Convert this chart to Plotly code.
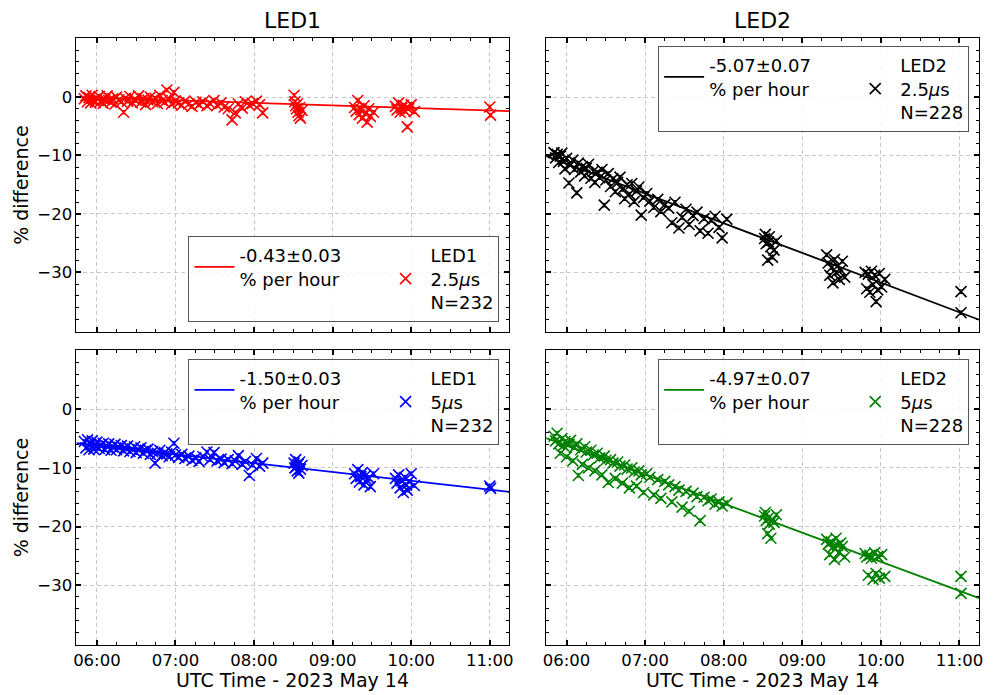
import plotly.graph_objects as go

# ---------------- data (decimal UTC hours, % difference) ----------------
led1_times = [
    5.84, 5.86, 5.88, 5.90, 5.92, 5.94, 5.96, 5.98, 6.00, 6.03, 6.05, 6.08, 6.10, 6.13, 6.15,
    6.18, 6.20, 6.23, 6.25, 6.28, 6.31, 6.34, 6.36, 6.39, 6.42, 6.45, 6.48, 6.50, 6.53, 6.56,
    6.59, 6.62, 6.65, 6.68, 6.71, 6.74, 6.77, 6.80, 6.83, 6.86, 6.89, 6.92, 6.95, 6.98, 7.00,
    7.04, 7.08, 7.12, 7.17, 7.21, 7.26, 7.30, 7.35, 7.40, 7.44, 7.49, 7.53, 7.58, 7.62, 7.67,
    7.72, 7.76, 7.80, 7.85, 7.89, 7.94, 7.98, 8.03, 8.07, 8.11,
    8.51, 8.52, 8.53, 8.54, 8.55, 8.56, 8.57, 8.58, 8.59, 8.61,
    9.28, 9.30, 9.32, 9.34, 9.36, 9.38, 9.40, 9.42, 9.44, 9.46, 9.48, 9.52,
    9.80, 9.82, 9.84, 9.86, 9.88, 9.90, 9.92, 9.94, 9.95, 9.97, 10.00, 10.04,
    11.00, 11.01,
]
led1_25us = [
    -0.3, 0.2, -0.8, -0.1, -1.0, 0.3, -0.5, -0.9, -0.2, 0.1, -0.7, -1.1, -0.4, 0.2, -0.6,
    -0.9, -0.3, -1.2, 0.0, -0.5, -0.8, -2.6, -0.2, -0.7, 0.1, -1.0, -0.4, -0.6, 0.2, -0.9,
    -0.3, -1.3, -0.5, 0.0, -0.8, -0.2, -1.1, 0.3, -0.6, -0.9, 1.2, -0.4, -1.2, 0.8, -0.7,
    -1.0, -1.4, -0.7, -1.2, -1.6, -0.9, -1.3, -0.8, -1.5, -1.1, -0.6, -1.4, -1.0, -1.7, -2.0,
    -3.9, -2.7, -1.2, -1.9, -0.8, -1.4, -1.1, -0.7, -1.3, -2.7,
    0.3, -0.8, -1.5, -2.0, -1.2, -2.6, -3.2, -1.8, -3.6, -2.3,
    -1.8, -2.4, -0.6, -3.0, -2.2, -3.6, -1.5, -2.8, -4.3, -2.0, -3.3, -2.6,
    -1.6, -2.2, -1.0, -2.6, -1.9, -1.4, -2.4, -1.8, -5.1, -2.0, -1.3, -2.5,
    -1.7, -3.1,
]
led1_5us = [
    -5.5, -6.6, -5.2, -6.9, -6.0, -5.4, -6.8, -6.2, -5.6, -6.7, -6.1, -5.8, -6.9, -6.3, -5.9,
    -7.0, -6.4, -6.0, -6.9, -6.5, -6.2, -7.1, -6.6, -6.3, -7.2, -6.8, -6.4, -7.4, -6.9, -6.6,
    -7.5, -7.0, -6.8, -7.7, -7.2, -9.2, -7.5, -7.0, -7.9, -7.4, -7.6, -8.1, -7.3, -5.8, -7.8,
    -8.2, -7.7, -8.4, -8.0, -8.7, -8.3, -8.9, -8.1, -7.3, -8.6, -7.4, -8.8, -8.5, -9.1, -8.6,
    -9.3, -8.8, -7.9, -9.4, -8.9, -11.3, -9.5, -8.4, -9.7, -9.2,
    -9.2, -10.0, -8.6, -9.8, -10.5, -9.4, -10.9, -9.0, -10.2, -9.6,
    -11.0, -11.8, -10.3, -12.4, -11.5, -10.8, -12.9, -11.3, -12.1, -11.7, -13.2, -11.0,
    -11.8, -12.6, -11.2, -13.4, -12.2, -14.2, -11.6, -12.9, -13.8, -12.3, -11.0, -13.0,
    -13.1, -13.5,
]

led2_times = [
    5.84, 5.86, 5.88, 5.90, 5.92, 5.94, 5.96, 5.98, 6.00, 6.03, 6.05, 6.08, 6.10, 6.13, 6.15,
    6.18, 6.20, 6.23, 6.25, 6.28, 6.31, 6.34, 6.36, 6.39, 6.42, 6.45, 6.48, 6.50, 6.53, 6.56,
    6.59, 6.62, 6.65, 6.68, 6.71, 6.74, 6.77, 6.80, 6.83, 6.86, 6.89, 6.92, 6.95, 6.98, 7.02,
    7.06, 7.11, 7.16, 7.20, 7.25, 7.30, 7.34, 7.38, 7.43, 7.47, 7.52, 7.56, 7.61, 7.66, 7.70,
    7.75, 7.80, 7.84, 7.89, 7.94, 7.98, 8.04,
    8.52, 8.53, 8.54, 8.56, 8.57, 8.58, 8.60, 8.62, 8.64, 8.67,
    9.31, 9.33, 9.35, 9.37, 9.39, 9.41, 9.43, 9.45, 9.47, 9.49, 9.51, 9.54,
    9.80, 9.82, 9.84, 9.86, 9.88, 9.90, 9.92, 9.94, 9.96, 9.98, 10.01, 10.05,
    11.02, 11.02,
]
led2_25us = [
    -9.5, -10.4, -9.8, -11.2, -10.1, -9.6, -11.0, -12.3, -10.5, -14.7, -11.6, -10.8, -12.4, -16.4, -11.3,
    -12.8, -11.9, -13.5, -12.2, -11.5, -13.9, -12.7, -14.6, -12.9, -13.8, -12.4, -18.5, -14.2, -13.1, -15.3,
    -14.0, -16.2, -14.6, -13.7, -15.8, -17.4, -15.0, -16.6, -14.8, -17.9, -16.1, -15.4, -20.2, -17.2, -16.5,
    -17.8, -18.9, -17.5, -19.6, -18.4, -19.0, -21.5, -18.0, -22.4, -20.6, -19.2, -21.8, -20.3, -19.7, -22.9,
    -20.8, -23.3, -21.1, -20.4, -22.3, -24.1, -20.9,
    -24.2, -23.5, -25.1, -27.9, -24.8, -23.9, -25.6, -27.4, -26.2, -24.6,
    -27.0, -28.4, -30.5, -29.2, -31.8, -27.8, -30.0, -28.9, -31.2, -29.6, -28.1, -30.8,
    -30.0, -32.8, -30.3, -33.4, -29.8, -32.1, -30.5, -35.0, -33.0, -30.2, -32.5, -31.2,
    -33.3, -36.9,
]
led2_5us = [
    -4.6, -5.4, -4.1, -5.9, -7.5, -5.0, -6.2, -5.5, -8.1, -6.0, -5.3, -8.8, -6.5, -5.9, -11.3,
    -6.9, -9.4, -6.4, -7.3, -10.0, -7.0, -7.8, -10.5, -7.5, -8.3, -11.2, -8.0, -8.7, -12.5, -8.6,
    -9.2, -11.8, -9.0, -9.7, -12.6, -9.5, -10.2, -13.4, -10.0, -10.7, -13.1, -10.5, -11.2, -14.2, -11.0,
    -11.6, -14.6, -12.0, -15.2, -12.3, -12.9, -15.8, -13.2, -13.8, -16.7, -14.0, -17.4, -14.3, -14.9, -19.0,
    -15.0, -15.6, -15.3, -16.2, -15.8, -16.5, -16.0,
    -18.2, -17.6, -19.0, -21.2, -18.5, -19.6, -22.0, -18.9, -19.3, -18.0,
    -22.2, -23.0, -24.8, -22.6, -23.5, -25.6, -22.0, -23.2, -24.4, -22.8, -23.4, -25.2,
    -24.6, -25.2, -28.3, -24.9, -25.4, -29.0, -24.5, -28.0, -25.1, -28.8, -24.8, -28.5,
    -28.5, -31.4,
]
meas_err = 0.3  # % (small per-point uncertainty)

# fitted straight lines, value at left / right edge of the time axis
fit_x = [5.74, 11.25]
fit_led1_25us = [0.0, -2.4]
fit_led2_25us = [-10.1, -38.1]
fit_led1_5us = [-5.8, -14.1]
fit_led2_5us = [-4.9, -32.2]

PAD = "\u00a0" * 6
fit_labels = ["-0.43±0.03" + PAD + "<br>% per hour", "-5.07±0.07" + PAD + "<br>% per hour",
              "-1.50±0.03" + PAD + "<br>% per hour", "-4.97±0.07" + PAD + "<br>% per hour"]
series_labels = ["LED1<br>2.5<i>μ</i>s<br>N=232", "LED2<br>2.5<i>μ</i>s<br>N=228",
                 "LED1<br>5<i>μ</i>s<br>N=232", "LED2<br>5<i>μ</i>s<br>N=228"]
panel_titles = ["LED1", "LED2"]
x_tick_vals = [6, 7, 8, 9, 10, 11]
x_tick_text = ["06:00", "07:00", "08:00", "09:00", "10:00", "11:00"]
y_tick_vals = [-30, -20, -10, 0]
y_tick_text = ["−30", "−20", "−10", "0"]
x_title = "UTC Time - 2023 May 14"
y_title = "% difference"

# ---------------- figure ----------------
W, H = 993, 695
FONT = "DejaVu Sans, sans-serif"
fig = go.Figure()

panels = [
    dict(x=led1_times, y=led1_25us, fit=fit_led1_25us, color="#ff0000", ax=1),
    dict(x=led2_times, y=led2_25us, fit=fit_led2_25us, color="#000000", ax=2),
    dict(x=led1_times, y=led1_5us, fit=fit_led1_5us, color="#0000ff", ax=3),
    dict(x=led2_times, y=led2_5us, fit=fit_led2_5us, color="#008000", ax=4),
]

for i, p in enumerate(panels):
    sfx = "" if p["ax"] == 1 else str(p["ax"])
    leg = "legend" if p["ax"] == 1 else f"legend{p['ax']}"
    fig.add_trace(go.Scatter(
        x=p["x"], y=p["y"], mode="markers",
        marker=dict(symbol="x-thin", size=11, line=dict(width=1.6, color=p["color"]), color=p["color"]),
        error_y=dict(type="constant", value=meas_err, color=p["color"], thickness=1, width=2),
        name=series_labels[i], xaxis="x" + sfx, yaxis="y" + sfx, legend=leg,
    ))
    fig.add_trace(go.Scatter(
        x=fit_x, y=p["fit"], mode="lines",
        line=dict(color=p["color"], width=1.8),
        name=fit_labels[i], xaxis="x" + sfx, yaxis="y" + sfx, legend=leg,
    ))

xdom = [[74 / W, 510 / W], [547 / W, 983 / W]]
ydom = [[1 - 332 / H, 1 - 38 / H], [1 - 645 / H, 1 - 350 / H]]

x_minor = [6 + q * 0.25 for q in range(-1, 22)]
y_minor = [v for v in range(-40, 11, 2) if v % 10 != 0]

axis_common = dict(
    showline=True, linecolor="black", linewidth=1, mirror="allticks",
    ticks="inside", ticklen=5, tickwidth=2, tickcolor="black",
    showgrid=True, gridcolor="#c8c8c8", griddash="4px,3px", gridwidth=0.8,
    zeroline=False, tickfont=dict(family=FONT, size=16.5, color="black"),
)

for k in range(4):
    row, col = divmod(k, 2)
    sfx = "" if k == 0 else str(k + 1)
    xa = dict(axis_common, domain=xdom[col], anchor="y" + sfx, range=[5.74, 11.25],
              tickmode="array", tickvals=x_tick_vals, ticktext=x_tick_text,
              showticklabels=(row == 1),
              minor=dict(tickmode="array", tickvals=x_minor, ticks="inside", ticklen=3,
                         tickwidth=1, tickcolor="black", showgrid=False))
    ya = dict(axis_common, domain=ydom[row], anchor="x" + sfx, range=[-40.2, 10.1],
              tickmode="array", tickvals=y_tick_vals, ticktext=y_tick_text,
              showticklabels=(col == 0),
              minor=dict(tickmode="array", tickvals=y_minor, ticks="inside", ticklen=3,
                         tickwidth=1, tickcolor="black", showgrid=False))
    fig.layout["xaxis" + sfx] = xa
    fig.layout["yaxis" + sfx] = ya

legend_common = dict(
    orientation="h", traceorder="reversed", bgcolor="rgba(255,255,255,0.85)",
    bordercolor="#555555", borderwidth=1,
    font=dict(family=FONT, size=18, color="black"),
    entrywidth=0, entrywidthmode="pixels", itemwidth=40, valign="middle",
)
legend_pos = [
    dict(x=500 / W, y=1 - 322 / H, xanchor="right", yanchor="bottom"),
    dict(x=973 / W, y=1 - 46 / H, xanchor="right", yanchor="top"),
    dict(x=500 / W, y=1 - 359 / H, xanchor="right", yanchor="top"),
    dict(x=973 / W, y=1 - 359 / H, xanchor="right", yanchor="top"),
]
for k in range(4):
    name = "legend" if k == 0 else f"legend{k + 1}"
    fig.layout[name] = dict(legend_common, **legend_pos[k])

annotations = []
for col in range(2):
    cx = (xdom[col][0] + xdom[col][1]) / 2
    annotations.append(dict(text=panel_titles[col], x=cx, y=1 - 20 / H, xref="paper", yref="paper",
                            showarrow=False, font=dict(family=FONT, size=22, color="black"),
                            xanchor="center", yanchor="middle"))
    annotations.append(dict(text=x_title, x=cx, y=1 - 680 / H, xref="paper", yref="paper",
                            showarrow=False, font=dict(family=FONT, size=19, color="black"),
                            xanchor="center", yanchor="middle"))
for row in range(2):
    cy = (ydom[row][0] + ydom[row][1]) / 2
    annotations.append(dict(text=y_title, x=18 / W, y=cy, xref="paper", yref="paper",
                            showarrow=False, textangle=-90,
                            font=dict(family=FONT, size=19, color="black"),
                            xanchor="center", yanchor="middle"))

fig.update_layout(
    width=W, height=H, margin=dict(l=0, r=0, t=0, b=0),
    paper_bgcolor="white", plot_bgcolor="white",
    annotations=annotations, showlegend=True,
)

fig.write_html("out.html", config={"displayModeBar": False},
               post_script="document.body.style.margin='0px';")
